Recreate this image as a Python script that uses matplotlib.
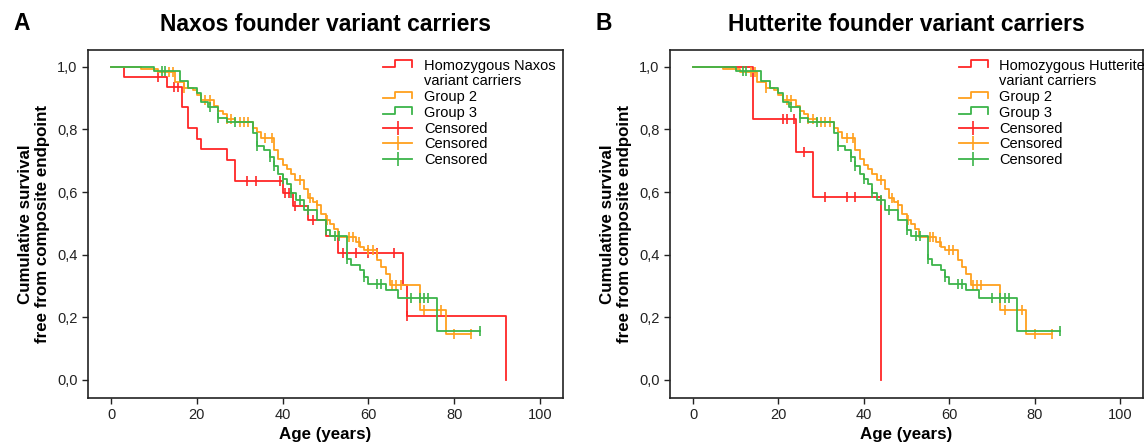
import matplotlib
matplotlib.use('Agg')
import matplotlib.pyplot as plt
import numpy as np
from matplotlib.legend_handler import HandlerBase
from matplotlib.lines import Line2D
from matplotlib.ticker import FuncFormatter

plt.rcParams['font.family'] = ['Liberation Sans', 'DejaVu Sans']

RED = '#ff2626'
ORANGE = '#ffa01e'
GREEN = '#3cb44a'

# Group 2 (same in both panels)
g2_times = [7, 11, 15, 17, 19, 20, 21, 24, 25, 26, 27, 29, 33, 34, 35, 38, 39, 40, 41, 42, 43, 45,
            46, 47, 48, 49, 50, 51, 52, 53, 57, 58, 59, 62, 63, 64, 65, 72, 78]
g2_surv = [0.993, 0.985, 0.952, 0.934, 0.925, 0.911, 0.895, 0.874, 0.858, 0.848, 0.834, 0.825, 0.805,
           0.792, 0.772, 0.733, 0.707, 0.688, 0.675, 0.659, 0.638, 0.609, 0.581, 0.568, 0.558, 0.531,
           0.51, 0.497, 0.483, 0.456, 0.44, 0.426, 0.416, 0.382, 0.36, 0.339, 0.302, 0.222, 0.147]
g2_cens = [13.5, 14.5, 17, 22, 23, 27, 28, 30, 31, 32, 36, 37.5, 44, 46.5, 48, 50.3, 55.5, 56.3, 57.8,
           60, 61, 65.5, 66.5, 67.5, 73, 77, 80, 84]

# Group 3 (same in both panels)
g3_times = [10, 16, 18, 20, 21, 22.5, 25, 27, 33, 34, 35.6, 37, 38, 39, 40, 41, 42, 43.2, 45, 48, 50,
            51, 55, 56, 58, 59, 60, 64, 67, 76]
g3_surv = [0.988, 0.954, 0.931, 0.917, 0.887, 0.872, 0.837, 0.824, 0.789, 0.747, 0.733, 0.713, 0.683,
           0.659, 0.643, 0.627, 0.598, 0.574, 0.542, 0.51, 0.478, 0.461, 0.387, 0.368, 0.35, 0.328,
           0.307, 0.286, 0.261, 0.155]
g3_cens = [11.8, 12.5, 23, 25, 29, 34, 37, 38, 40, 42, 44, 46, 50, 52.2, 53.2, 55, 59, 62, 63,
           70, 72, 73, 74, 86]

# Homozygous Naxos variant carriers
nax_times = [3, 13, 16.5, 18, 20, 21, 27, 29, 40, 42.5, 46, 50, 53, 68, 69, 92]
nax_surv = [0.968, 0.936, 0.871, 0.804, 0.771, 0.737, 0.703, 0.636, 0.598, 0.555, 0.51, 0.46, 0.406,
            0.304, 0.205, 0.0]
nax_cens = [11, 14.7, 15.7, 31.7, 33.7, 39.5, 40.6, 41.5, 43, 47, 54, 57, 60, 62, 66, 69]

# Homozygous Hutterite variant carriers
hut_times = [14, 24, 28, 44]
hut_surv = [0.833, 0.729, 0.584, 0.0]
hut_cens = [21, 22, 23.7, 26, 31, 36, 38]

y_ticks = [0.0, 0.2, 0.4, 0.6, 0.8, 1.0]
x_ticks = [0, 20, 40, 60, 80, 100]


class StepHandler(HandlerBase):
    def create_artists(self, legend, orig_handle, xdescent, ydescent, width, height, fontsize, trans):
        x0, y0 = -xdescent, -ydescent
        xs = [x0, x0 + 0.42 * width, x0 + 0.42 * width, x0 + width, x0 + width]
        ys = [y0 + 0.3 * height, y0 + 0.3 * height, y0 + 0.95 * height, y0 + 0.95 * height, y0 + 0.3 * height]
        ln = Line2D(xs, ys, color=orig_handle.get_color(), lw=orig_handle.get_linewidth())
        ln.set_transform(trans)
        return [ln]


def km(ax, times, surv, cens, color):
    t = np.array([0] + list(times), dtype=float)
    s = np.array([1.0] + list(surv))
    c = np.array(cens, dtype=float)
    if c.size and c.max() > t[-1] and s[-1] > 0:
        t = np.append(t, c.max())
        s = np.append(s, s[-1])
    ax.step(t, s, where='post', color=color, lw=1.3)
    idx = np.searchsorted(t, c, side='right') - 1
    ax.plot(c, s[idx], ls='none', marker='|', ms=6.5, mew=1.2, color=color)


def panel(ax, times, surv, cens, name, letter, title, lx):
    km(ax, times, surv, cens, RED)
    km(ax, g2_times, g2_surv, g2_cens, ORANGE)
    km(ax, g3_times, g3_surv, g3_cens, GREEN)
    ax.set_xlim(-5.4, 105.4)
    ax.set_ylim(-0.058, 1.054)
    ax.set_xticks(x_ticks)
    ax.set_yticks(y_ticks)
    ax.yaxis.set_major_formatter(FuncFormatter(lambda v, p: f'{v:.1f}'.replace('.', ',')))
    ax.tick_params(labelsize=10.5, length=4, width=1, colors='#222')
    for sp in ax.spines.values():
        sp.set_linewidth(1.2)
        sp.set_color('#222')
    ax.set_xlabel('Age (years)', fontsize=12.2, fontweight='bold', labelpad=3)
    ax.set_ylabel('Cumulative survival\nfree from composite endpoint', fontsize=12.2,
                  fontweight='bold', labelpad=5)
    ax.set_title(title, fontsize=16.5, fontweight='bold', pad=14)
    ax.text(-0.158, 1.057, letter, transform=ax.transAxes, fontsize=16.5, fontweight='bold',
            va='baseline')

    step_red = Line2D([], [], color=RED, lw=1.3)
    step_or = Line2D([], [], color=ORANGE, lw=1.3)
    step_gr = Line2D([], [], color=GREEN, lw=1.3)
    blank = Line2D([], [], color='none')
    cens_h = [Line2D([], [], color=c, lw=1.3, marker='|', ms=10, mew=1.2) for c in (RED, ORANGE, GREEN)]
    handles = [step_red, blank, step_or, step_gr] + cens_h
    labels = [f'Homozygous {name}', 'variant carriers', 'Group 2', 'Group 3',
              'Censored', 'Censored', 'Censored']
    ax.legend(handles, labels, loc='upper left', bbox_to_anchor=(lx, 0.975), frameon=False,
              fontsize=10.5, handlelength=2.0, handletextpad=0.8, labelspacing=0.12,
              borderpad=0, borderaxespad=0,
              handler_map={step_red: StepHandler(), step_or: StepHandler(), step_gr: StepHandler()})


fig = plt.figure(figsize=(11.44, 4.46), dpi=100)
ax1 = fig.add_axes([88 / 1144, 1 - 398 / 446, 475 / 1144, 348 / 446])
ax2 = fig.add_axes([670 / 1144, 1 - 398 / 446, 473 / 1144, 348 / 446])
panel(ax1, nax_times, nax_surv, nax_cens, 'Naxos', 'A', 'Naxos founder variant carriers', 0.621)
panel(ax2, hut_times, hut_surv, hut_cens, 'Hutterite', 'B', 'Hutterite founder variant carriers', 0.61)
fig.savefig('out.png', dpi=100, facecolor='white')
